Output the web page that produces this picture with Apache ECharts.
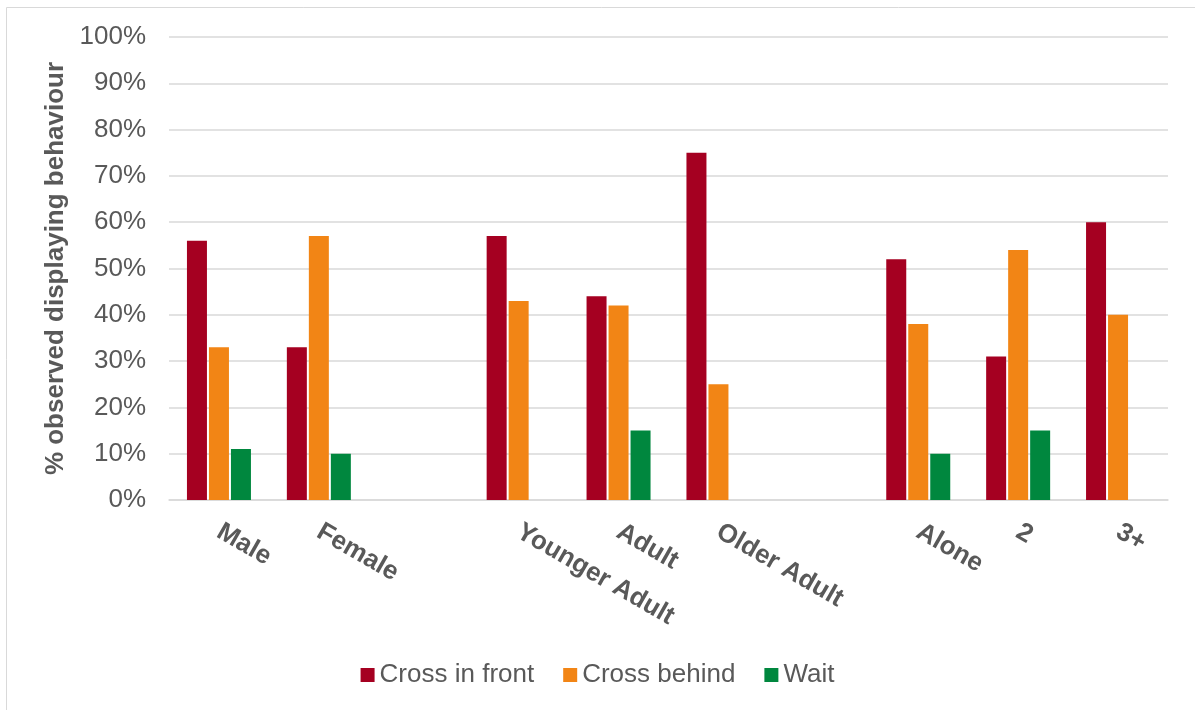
<!DOCTYPE html>
<html><head><meta charset="utf-8">
<script src="https://cdn.jsdelivr.net/npm/echarts@6/dist/echarts.min.js"></script>
<style>html,body{margin:0;padding:0;background:#fff}#c{width:1195px;height:710px}</style>
</head><body><div id="c"></div>
<script>
const categories = ['Male','Female','','Younger Adult','Adult','Older Adult','','Alone','2','3+'];
const crossInFront = [56,33,null,57,44,75,null,52,31,60];
const crossBehind  = [33,57,null,43,42,25,null,38,54,40];
const wait         = [11,10,null,0,15,0,null,10,15,0];
const seriesNames = ['Cross in front','Cross behind','Wait'];
const colors = ['#A50021','#F28515','#00873E'];

const chart = echarts.init(document.getElementById('c'));
const font = 'Liberation Sans, Arial, sans-serif';
const mk = (name, data, color) => ({
  name, type:'bar', data, barWidth:20, barGap:'10%',
  itemStyle:{color}
});
chart.setOption({
  animation:false,
  textStyle:{fontFamily:font},
  graphic:[{type:'rect',shape:{x:6.5,y:7.5,width:1200,height:720},style:{fill:'none',stroke:'#d9d9d9',lineWidth:1}}],
  grid:{left:169,right:27,top:37,bottom:210,containLabel:false},
  legend:{bottom:17,left:'center',itemWidth:14,itemHeight:14,itemGap:29,
    icon:'rect',textStyle:{fontSize:26,color:'#595959',fontFamily:font,padding:[0,0,0,0]},
    data:seriesNames},
  xAxis:{type:'category',data:categories,
    axisLine:{lineStyle:{color:'#d9d9d9',width:1.5}},axisTick:{show:false},
    axisLabel:{interval:0,rotate:-30,margin:30,fontSize:26,fontWeight:'bold',color:'#595959',fontFamily:font}},
  yAxis:{type:'value',min:0,max:100,interval:10,
    name:'% observed displaying behaviour',nameLocation:'middle',nameGap:98,
    nameTextStyle:{fontSize:26,fontWeight:'bold',color:'#595959',fontFamily:font},
    axisLabel:{formatter:'{value}%',fontSize:26,color:'#595959',margin:23,fontFamily:font},
    axisLine:{show:false},axisTick:{show:false},
    splitLine:{lineStyle:{color:'#d9d9d9',width:1.5}}},
  series:[mk(seriesNames[0],crossInFront,colors[0]),mk(seriesNames[1],crossBehind,colors[1]),mk(seriesNames[2],wait,colors[2])]
});
</script></body></html>
